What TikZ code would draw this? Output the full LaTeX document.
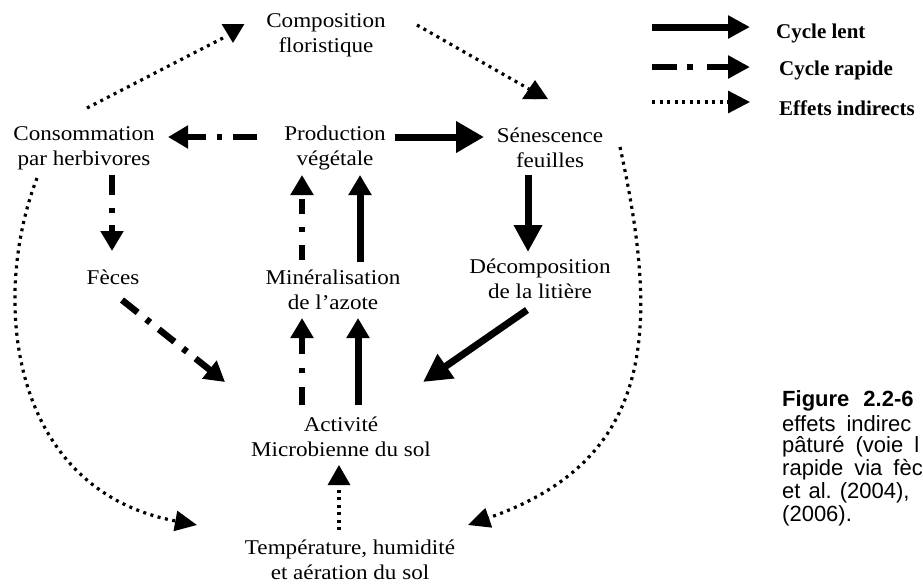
\documentclass[tikz,border=0pt]{standalone}
\usepackage{fontspec}
\setmainfont{Liberation Serif}[FakeStretch=1.1]
\newfontfamily\legfont{Liberation Serif}[Ligatures=TeX]
\newfontfamily\capfont{Liberation Sans}
\usetikzlibrary{arrows.meta,calc}
\begin{document}
\begin{tikzpicture}[x=1pt,y=-1pt,
  lbl/.style={align=center,inner sep=0pt,font=\fontsize{21}{25}\selectfont},
  legtext/.style={anchor=west,inner sep=0pt,font=\legfont\bfseries\fontsize{21}{25}\selectfont},
  captext/.style={anchor=west,inner sep=0pt,font=\capfont\fontsize{22}{23}\selectfont},
  headS/.style={-{Triangle[length=20pt,width=22pt]}},
  headL/.style={-{Triangle[length=28pt,width=30pt]}},
  solidln/.style={line width=7pt},
  dashdot/.style={line width=6.5pt,dash pattern=on 20pt off 11pt on 5pt off 11pt},
  dotln/.style={line width=3.2pt,dash pattern=on 3pt off 4.5pt}
]
\useasboundingbox (0,0) rectangle (923,584);
\clip (0,0) rectangle (923,584);

% nodes
\node[lbl] (comp) at (326,35) {Composition\\floristique};
\node[lbl] (cons) at (84,148) {Consommation\\par herbivores};
\node[lbl] (prod) at (335,148) {Production\\végétale};
\node[lbl] (sen) at (550,148) {Sénescence\\feuilles};
\node[lbl] (fec) at (113,277) {Fèces};
\node[lbl] (min) at (333,290) {Minéralisation\\de l'azote};
\node[lbl] (dec) at (540,279) {Décomposition\\de la litière};
\node[lbl] (act) at (341,437) {Activité\\Microbienne du sol};
\node[lbl] (temp) at (350,560) {Température, humidité\\et aération du sol};

% slow cycle (solid)
\draw[solidln,headL] ($(prod)+(60,-11)$) -- ($(sen)+(-66,-11)$);
\draw[solidln,-{Triangle[length=27pt,width=27pt]}] ($(sen)+(-22,27)$) -- ($(dec)+(-12,-27)$);
\draw[solidln,-{Triangle[length=28pt,width=28pt]}] ($(dec)+(-13,31)$) -- ($(act)+(82,-55)$);
\draw[solidln,headS] ($(min)+(27,-28)$) -- ($(prod)+(25,27)$);
\draw[solidln,headS] ($(act)+(17,-32)$) -- ($(min)+(25,28)$);

% fast cycle (dash-dot)
\draw[dashdot,dash pattern=on 24pt off 11pt on 5pt off 11pt,headS] ($(prod)+(-78,-11)$) -- ($(cons)+(84,-11)$);
\draw[dashdot,dash pattern=on 20pt off 13pt on 5pt off 12pt,headS] ($(cons)+(28,27)$) -- ($(fec)+(-1,-26)$);
\draw[dashdot,headS] ($(fec)+(9,23)$) -- ($(act)+(-116,-55)$);
\draw[dashdot,dash pattern=on 15pt off 13pt on 5pt off 13pt,headS] ($(min)+(-31,-30)$) -- ($(prod)+(-33,27)$);
\draw[dashdot,dash pattern=on 18pt off 14pt on 5pt off 14pt,headS] ($(act)+(-39,-32)$) -- ($(min)+(-31,28)$);

% indirect effects (dotted); the heads sit as drawn in the reference
\draw[dotln,-{Triangle[length=19pt,width=22pt]}] ($(cons)+(3,-40)$) -- (223,38) ($(comp)+(-93,-11)$) -- ($(comp)+(-93,8)$);
\draw[dotln,-{Triangle[length=19pt,width=25pt]}] ($(comp)+(91,-10)$) -- (529,89) ($(sen)+(-15,-49)$) -- ($(sen)+(-15,-68)$);
\draw[dotln,-{Triangle[length=22pt,width=20pt]}] ($(cons)+(-47,30)$) .. controls (-10,300) and (10,490) .. ($(temp)+(-153,-35)$);
\draw[dotln,-{Triangle[length=22pt,width=20pt]}] ($(sen)+(70,-1)$) .. controls (660,330) and (655,460) .. ($(temp)+(118,-35)$);
\draw[dotln,headS] ($(temp)+(-11,-30)$) -- ($(act)+(-2,28)$);

% legend
\node[legtext] (l1) at (776,33) {Cycle lent};
\node[legtext] (l2) at (779,70) {Cycle rapide};
\node[legtext] (l3) at (779,108) {Effets indirects};
\draw[solidln,-{Triangle[length=22pt,width=22pt]}] ($(l1.west)+(-124,-6)$) -- ($(l1.west)+(-26,-6)$);
\draw[dashdot,dash pattern=on 25pt off 10pt on 6pt off 14pt,-{Triangle[length=22pt,width=22pt]}] ($(l2.west)+(-127,-3)$) -- ($(l2.west)+(-29,-3)$);
\draw[dotln,-{Triangle[length=22pt,width=22pt]}] ($(l3.west)+(-127,-6)$) -- ($(l3.west)+(-29,-6)$);

% caption (cut off at the right edge)
\node[captext] (c1) at (782,401) {\textbf{Figure}\hspace{14pt}\textbf{2.2-6}};
\node[captext] (c2) at (782,424) {effets\hspace{11pt}indirec};
\node[captext] (c3) at (782,447) {pâturé\hspace{11pt}(voie\hspace{11pt}l};
\node[captext] (c4) at (782,470) {rapide\hspace{11pt}via\hspace{11pt}fèc};
\node[captext] (c5) at (782,493) {et\hspace{8pt}al.\hspace{8pt}(2004),};
\node[captext] (c6) at (782,516) {(2006).};
\end{tikzpicture}
\end{document}
